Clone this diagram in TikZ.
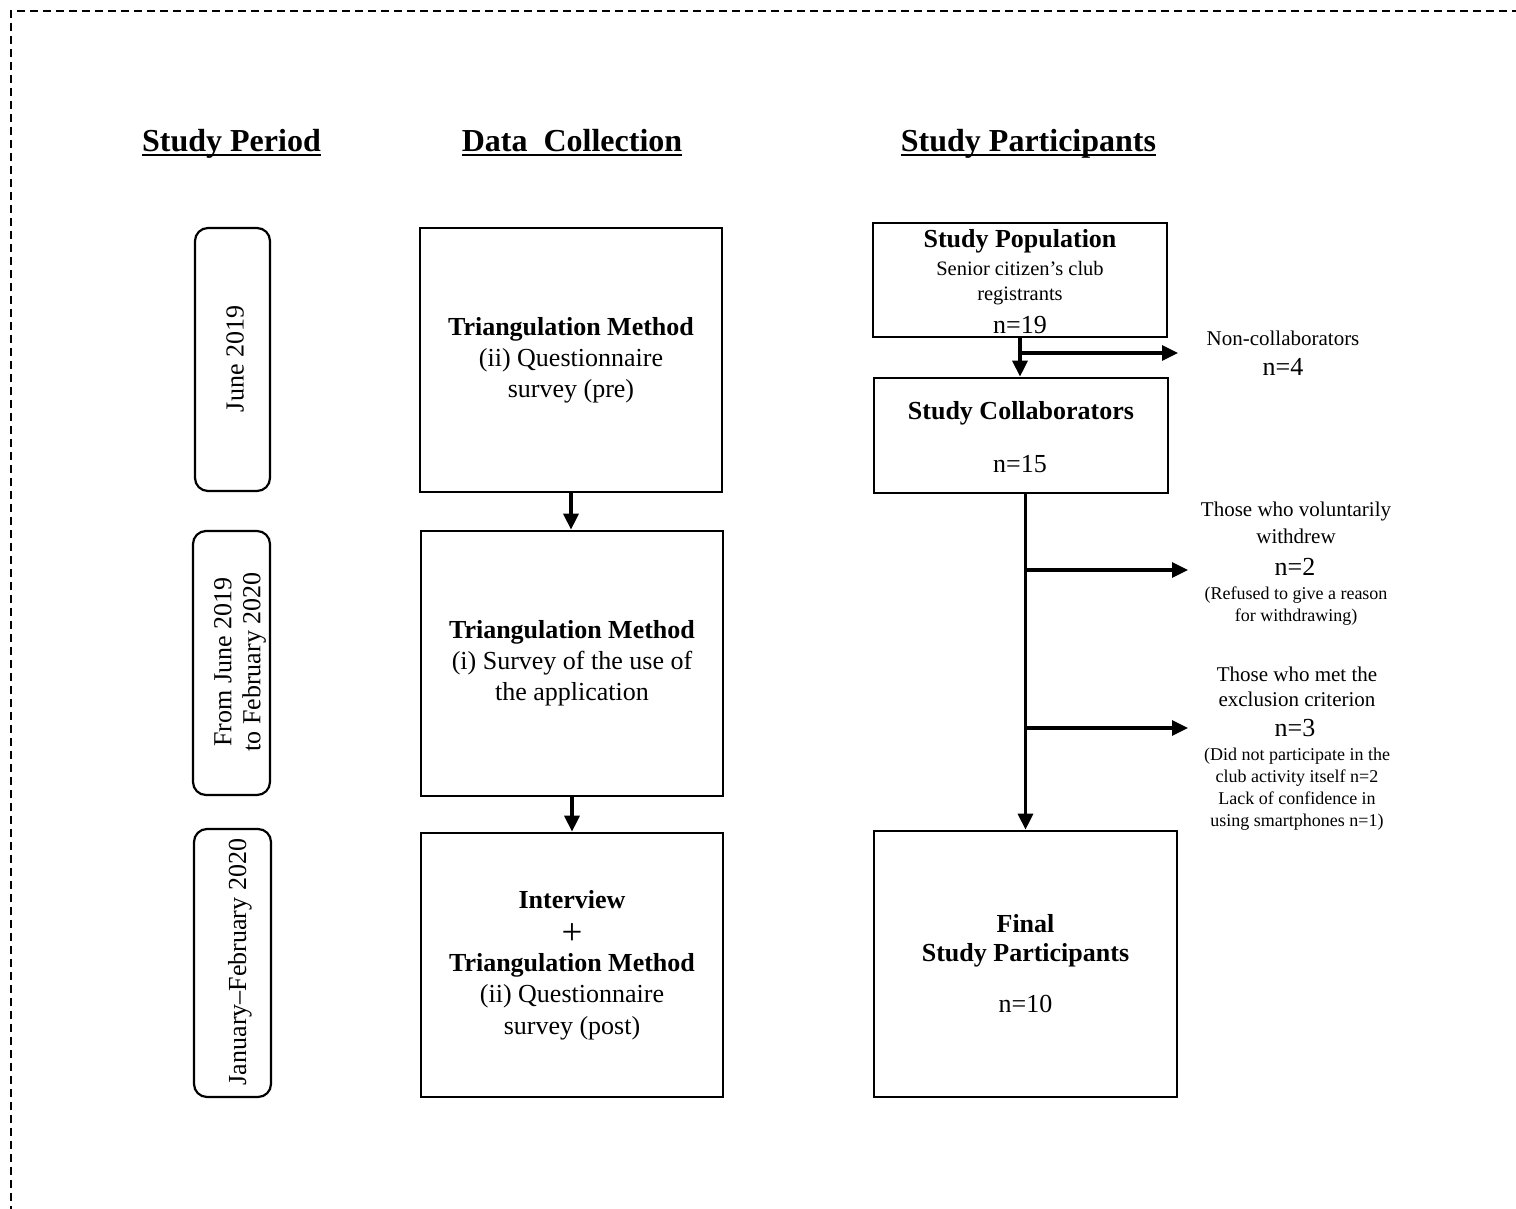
\documentclass[tikz,border=0pt]{standalone}
\usepackage{fontspec}
\setmainfont{Liberation Serif}
\usetikzlibrary{arrows.meta}
\newcommand\fsz[2]{\fontsize{#1}{#2}\selectfont}
\begin{document}
\begin{tikzpicture}[x=1pt,y=-1pt,
  box/.style={draw, line width=2.7pt, inner sep=0pt, align=center},
  rbox/.style={draw, line width=2.2pt, rounded corners=13pt, inner sep=0pt},
  arr/.style={line width=3.2pt, -{Triangle[length=16pt,width=15pt]}},
  ln/.style={inner sep=0pt, anchor=base},
  ttl/.style={inner sep=0pt, anchor=base, font=\fsz{32}{36}\bfseries},
  uline/.style={line width=2pt},
  vtext/.style={inner sep=0pt, rotate=90, align=center, font=\fsz{26}{29}},
  fa/.style={font=\fsz{21}{25}},
  fb/.style={font=\fsz{26}{30}},
  fbb/.style={font=\fsz{26}{30}\bfseries},
  fc/.style={font=\fsz{18}{22}},
  fd/.style={font=\fsz{20.5}{24}}]
\useasboundingbox (0,0) rectangle (1516,1209);
\draw[line width=2pt, dash pattern=on 8pt off 5pt] (11,1240) -- (11,11) -- (1540,11);

% titles
\node[ttl] (t1) at (231.5,152) {Study Period};
\node[ttl] (t2) at (572,152) {Data\ \ Collection};
\node[ttl] (t3) at (1028.5,152) {Study Participants};
\foreach \t in {t1,t2,t3}
  \draw[uline] ([yshift=-3.5pt]\t.base west) -- ([yshift=-3.5pt]\t.base east);

% study period boxes
\node[rbox, minimum width=75pt, minimum height=263pt] (p1) at (232.5,359.5) {};
\node[rbox, minimum width=77pt, minimum height=264pt] (p2) at (231.5,663) {};
\node[rbox, minimum width=77pt, minimum height=268pt] (p3) at (232.5,963) {};
\node[vtext] (pt1) at (235,359) {June 2019};
\node[vtext] (pt2) at (240,662) {From June 2019\\to February 2020};
\node[vtext] (pt3) at (240,962) {January–February 2020};

% data collection boxes
\node[box, font=\fsz{26}{31}, minimum width=302pt, minimum height=264pt] (m1) at (571,360)
  {\textbf{Triangulation Method}\\(ii) Questionnaire\\survey (pre)};
\node[box, font=\fsz{26}{31}, minimum width=302pt, minimum height=265pt] (m2) at (572,663.5)
  {\textbf{Triangulation Method}\\(i) Survey of the use of\\the application};
\node[box, font=\fsz{26}{31.5}, minimum width=302pt, minimum height=264pt] (m3) at (572,965)
  {\textbf{Interview}\\{\fsz{37}{31.5}\raisebox{-5pt}{+}}\\\textbf{Triangulation Method}\\(ii) Questionnaire\\survey (post)};
\draw[arr] (m1.south) -- (m1.south |- m2.north);
\draw[arr] (m2.south) -- (m2.south |- m3.north);

% study participants boxes
\node[box, minimum width=294pt, minimum height=114pt] (pop) at (1020,280) {};
\node[ln, fbb] (pl1) at (1020,248) {Study Population};
\node[ln, fd] (pl2) at (1020,276) {Senior citizen’s club};
\node[ln, fd] (pl3) at (1020,300) {registrants};
\node[ln, fb] (pl4) at (1020,333) {n=19};

\node[box, minimum width=294pt, minimum height=115pt] (col) at (1021,435.5) {};
\node[ln, fbb] (cl1) at (1021,419) {Study Collaborators};
\node[ln, fb] (cl2) at (1020,472) {n=15};

\node[box, font=\fsz{26}{29}, minimum width=303pt, minimum height=266pt] (fin) at (1025.5,964)
  {\textbf{Final}\\\textbf{Study Participants}\\[22pt]n=10};

% flow arrows
\draw[arr] (pop.south) -- (pop.south |- col.north);
\coordinate (nb) at (1020,353);
\coordinate (ne) at (1178,353);
\draw[arr] (nb) -- (ne);
\draw[arr] (col.south -| fin.north) -- (fin.north);
\coordinate (b1) at (1025.5,570);
\coordinate (e1) at (1188,570);
\coordinate (b2) at (1025.5,728);
\coordinate (e2) at (1188,728);
\draw[arr] (b1) -- (e1);
\draw[arr] (b2) -- (e2);

% side annotations
\node[ln, fa] (nc1) at (1283,345) {Non-collaborators};
\node[ln, fb] (nc2) at (1283,375) {n=4};

\node[ln, fa] (w1) at (1296,516) {Those who voluntarily};
\node[ln, fa] (w2) at (1296,543) {withdrew};
\node[ln, fb] (w3) at (1295,575) {n=2};
\node[ln, fc] (w4) at (1296,599) {(Refused to give a reason};
\node[ln, fc] (w5) at (1296,621) {for withdrawing)};

\node[ln, fa] (x1) at (1297,681) {Those who met the};
\node[ln, fa] (x2) at (1297,706) {exclusion criterion};
\node[ln, fb] (x3) at (1295,736) {n=3};
\node[ln, fc] (x4) at (1297,760) {(Did not participate in the};
\node[ln, fc] (x5) at (1297,782) {club activity itself n=2};
\node[ln, fc] (x6) at (1297,804) {Lack of confidence in};
\node[ln, fc] (x7) at (1297,826) {using smartphones n=1)};
\end{tikzpicture}
\end{document}
